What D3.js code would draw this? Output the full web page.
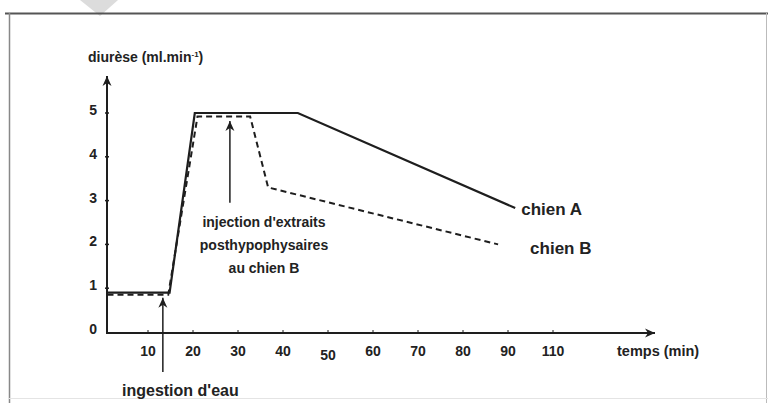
<!DOCTYPE html>
<html>
<head>
<meta charset="utf-8">
<script src="https://cdn.jsdelivr.net/npm/d3@7"></script>
<style>
  html, body { margin: 0; padding: 0; background: #fff; }
  svg text { font-family: "Liberation Sans", Arial, sans-serif; fill: #222; }
</style>
</head>
<body>
<svg id="chart" width="768" height="403"></svg>
<script>
// ---- data ----
const timesA = [1, 14.8, 20.4, 43.3, 91.6];
const valuesA = [0.9, 0.9, 5, 5, 2.83];
const timesB = [1, 14.5, 21, 32.7, 36.7, 87.8];
const valuesB = [0.85, 0.85, 4.92, 4.92, 3.3, 2.0];
const xTickValues = [10, 20, 30, 40, 50, 60, 70, 80, 90, 100];
const xTickLabels = ["10", "20", "30", "40", "50", "60", "70", "80", "90", "110"];
const yTickValues = [0, 1, 2, 3, 4, 5];
const seriesNames = ["chien A", "chien B"];
const ingestionTime = 13.3;
const injectionTime = 28.2;

const svg = d3.select("#chart");
const x = d3.scaleLinear().domain([0, 100]).range([103, 553]);
const y = d3.scaleLinear().domain([0, 5]).range([332, 113]);

// frame
svg.append("rect").attr("width", 768).attr("height", 403).attr("fill", "#fff");
svg.append("polygon").attr("points", "80,0 118,0 100,16").attr("fill", "#dcdcdc");
svg.append("line").attr("x1", 5).attr("x2", 768).attr("y1", 13.5).attr("y2", 13.5)
  .attr("stroke", "#555").attr("stroke-width", 2);
svg.append("line").attr("x1", 9.5).attr("x2", 9.5).attr("y1", 13).attr("y2", 403)
  .attr("stroke", "#888").attr("stroke-width", 1.5);
svg.append("line").attr("x1", 766.5).attr("x2", 766.5).attr("y1", 13).attr("y2", 403)
  .attr("stroke", "#bbb").attr("stroke-width", 1);
svg.append("line").attr("x1", 9).attr("x2", 768).attr("y1", 398.5).attr("y2", 398.5)
  .attr("stroke", "#e4e4e4").attr("stroke-width", 1);

const defs = svg.append("defs");
defs.append("marker").attr("id", "ahBig").attr("viewBox", "0 0 10 10")
  .attr("refX", 10).attr("refY", 5).attr("markerWidth", 24).attr("markerHeight", 10)
  .attr("markerUnits", "userSpaceOnUse").attr("orient", "auto")
  .append("path").attr("d", "M0,0.5 L10,5 L0,9.5 L3,5 Z").attr("fill", "#1e1e1e");

const x0 = x(0) + 4;
const yAxisBase = y(0) + 1;

// axes
svg.append("line").attr("x1", x0).attr("x2", 655).attr("y1", yAxisBase).attr("y2", yAxisBase)
  .attr("stroke", "#1e1e1e").attr("stroke-width", 2).attr("marker-end", "url(#ahBig)");
svg.append("line").attr("x1", x0).attr("x2", x0).attr("y1", yAxisBase + 1).attr("y2", 76)
  .attr("stroke", "#1e1e1e").attr("stroke-width", 2).attr("marker-end", "url(#ahBig)");

// y ticks
const yt = svg.append("g");
yt.selectAll("line").data(yTickValues.filter(d => d > 0)).join("line")
  .attr("x1", x0 - 2).attr("x2", x0 + 2).attr("y1", d => y(d)).attr("y2", d => y(d))
  .attr("stroke", "#1e1e1e").attr("stroke-width", 1.5);
yt.selectAll("text").data(yTickValues).join("text")
  .attr("x", 97).attr("y", d => y(d) - 3).attr("dy", "0.35em")
  .attr("text-anchor", "end").attr("font-size", 14).attr("font-weight", "bold")
  .text(d => d);

// x ticks
const xt = svg.append("g");
xt.selectAll("line").data(xTickValues).join("line")
  .attr("x1", d => x(d)).attr("x2", d => x(d)).attr("y1", yAxisBase).attr("y2", yAxisBase - 3)
  .attr("stroke", "#1e1e1e").attr("stroke-width", 1);
xt.selectAll("text").data(xTickValues).join("text")
  .attr("x", d => x(d)).attr("y", (d, i) => i === 4 ? 355 : 351).attr("dy", "0.35em")
  .attr("text-anchor", "middle").attr("font-size", 14).attr("font-weight", "bold")
  .text((d, i) => xTickLabels[i]);

// axis titles
const yLab = svg.append("text").attr("x", 88).attr("y", 62)
  .attr("font-size", 14).attr("font-weight", "bold");
yLab.append("tspan").text("diurèse (ml.min");
yLab.append("tspan").attr("font-size", 8).attr("dy", -5).text("-1");
yLab.append("tspan").attr("dy", 5).text(")");
svg.append("text").attr("x", 617).attr("y", 356).attr("font-size", 14.5)
  .attr("font-weight", "bold").text("temps (min)");

// lines
const lineGen = d3.line().x(d => x(d[0])).y(d => y(d[1]));
svg.append("path").datum(timesA.map((t, i) => [t, valuesA[i]]))
  .attr("d", lineGen).attr("fill", "none").attr("stroke", "#1e1e1e")
  .attr("stroke-width", 2.2).attr("stroke-linejoin", "miter");
svg.append("path").datum(timesB.map((t, i) => [t, valuesB[i]]))
  .attr("d", lineGen).attr("fill", "none").attr("stroke", "#1e1e1e")
  .attr("stroke-width", 2).attr("stroke-dasharray", "6,4");

// series labels
svg.append("text").attr("x", x(timesA[timesA.length - 1]) + 6).attr("y", y(valuesA[valuesA.length - 1]) + 1)
  .attr("dy", "0.35em").attr("font-size", 17).attr("font-weight", "bold").text(seriesNames[0]);
svg.append("text").attr("x", x(timesB[timesB.length - 1]) + 32).attr("y", y(valuesB[valuesB.length - 1]) + 4)
  .attr("dy", "0.35em").attr("font-size", 17).attr("font-weight", "bold").text(seriesNames[1]);

// annotations
svg.append("line").attr("x1", x(ingestionTime)).attr("x2", x(ingestionTime))
  .attr("y1", 372).attr("y2", y(0.78)).attr("stroke", "#1e1e1e").attr("stroke-width", 1.5)
  .attr("marker-end", "url(#ahBig)");
svg.append("text").attr("x", 122).attr("y", 390).attr("dy", "0.35em")
  .attr("font-size", 16).attr("font-weight", "bold").text("ingestion d'eau");

svg.append("line").attr("x1", x(injectionTime)).attr("x2", x(injectionTime))
  .attr("y1", y(2.95)).attr("y2", y(4.82)).attr("stroke", "#1e1e1e").attr("stroke-width", 1.5)
  .attr("marker-end", "url(#ahBig)");
const inj = svg.append("text").attr("text-anchor", "middle").attr("font-size", 14)
  .attr("font-weight", "bold");
["injection d'extraits", "posthypophysaires", "au chien B"].forEach((s, i) => {
  inj.append("tspan").attr("x", 264).attr("y", 222 + i * 23).attr("dy", "0.35em").text(s);
});
</script>
</body>
</html>
